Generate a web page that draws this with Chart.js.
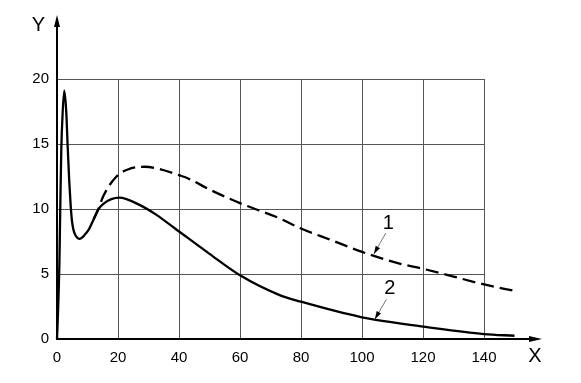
<!DOCTYPE html>
<html>
<head>
<meta charset="utf-8">
<script src="https://cdn.jsdelivr.net/npm/chart.js@4.4.0/dist/chart.umd.min.js"></script>
<style>
html,body{margin:0;padding:0;background:#fff;}
canvas{display:block;}
</style>
</head>
<body>
<canvas id="c" width="581" height="383"></canvas>
<script>
// Curve 1 (dashed)
const xs1 = [12, 13.5, 15.2, 19.5, 23.9, 28.8, 34.8, 40, 43, 50, 60, 73, 80, 90, 100, 112.3, 120, 130, 140, 150];
const ys1 = [9.2, 9.95, 11.0, 12.5, 13.1, 13.25, 13.0, 12.6, 12.35, 11.5, 10.45, 9.28, 8.5, 7.6, 6.7, 5.8, 5.4, 4.8, 4.2, 3.7];
// Curve 2 (solid)
const xs2 = [0, 0.4, 0.8, 1.1, 1.4, 1.85, 2.4, 3.05, 3.5, 4.0, 4.5, 4.9, 5.3, 5.8, 6.5, 7.3, 8.2, 9.2, 10.5, 12, 13.5, 15.2, 20.4, 27.2, 32.6, 38.7, 50, 60, 73, 80, 100, 112.3, 120, 140, 150];
const ys2 = [0, 2.5, 6, 10.5, 14.5, 17.4, 19.1, 17.4, 14.8, 12.2, 10.2, 9.1, 8.5, 8.1, 7.83, 7.7, 7.8, 8.05, 8.45, 9.2, 9.95, 10.4, 10.87, 10.3, 9.55, 8.5, 6.55, 4.9, 3.38, 2.87, 1.67, 1.2, 0.95, 0.38, 0.25];
// Tick labels
const xTicks = [0, 20, 40, 60, 80, 100, 120, 140];
const yTicks = [0, 5, 10, 15, 20];
// Annotation anchors (data space): [tipX, tipY, startX, startY, textX, textY]
const note1 = [103.9, 6.54, 107.8, 8.15, 108.6, 8.85];
const note2 = [104.2, 1.52, 108.0, 3.05, 109.1, 3.9];

const FONT = '"Liberation Sans", Arial, sans-serif';

function pts(xs, ys){ return xs.map((x,i)=>({x:x, y:ys[i]})); }

function arrowHead(ctx, x1, y1, x2, y2, len, hw){
  const a = Math.atan2(y2-y1, x2-x1);
  ctx.beginPath();
  ctx.moveTo(x2, y2);
  ctx.lineTo(x2 - len*Math.cos(a) + hw*Math.sin(a), y2 - len*Math.sin(a) - hw*Math.cos(a));
  ctx.lineTo(x2 - len*Math.cos(a) - hw*Math.sin(a), y2 - len*Math.sin(a) + hw*Math.cos(a));
  ctx.closePath();
  ctx.fill();
}

const decor = {
  id: 'decor',
  afterDatasetsDraw(chart){
    const ctx = chart.ctx;
    const xs = chart.scales.x, ys = chart.scales.y;
    const L = xs.left, B = ys.bottom;
    ctx.save();
    ctx.strokeStyle = '#000';
    ctx.fillStyle = '#000';
    ctx.lineWidth = 2;
    // Y axis
    ctx.beginPath(); ctx.moveTo(L, B+1); ctx.lineTo(L, 24); ctx.stroke();
    arrowHead(ctx, L, B, L, 15, 12, 3);
    // X axis
    ctx.beginPath(); ctx.moveTo(L-1, B); ctx.lineTo(532, B); ctx.stroke();
    arrowHead(ctx, L, B, 542, B, 13, 3);
    // Axis letters
    ctx.font = '20px ' + FONT;
    ctx.textAlign = 'center';
    ctx.textBaseline = 'middle';
    ctx.fillText('Y', 38.5, 25);
    ctx.fillText('X', 535, 356);
    // Curve labels with leaders
    [[note1,'1'],[note2,'2']].forEach(([n,t])=>{
      const tx = xs.getPixelForValue(n[0]), ty = ys.getPixelForValue(n[1]);
      const sx = xs.getPixelForValue(n[2]), sy = ys.getPixelForValue(n[3]);
      const lx = xs.getPixelForValue(n[4]), ly = ys.getPixelForValue(n[5]);
      ctx.strokeStyle = '#777';
      ctx.lineWidth = 1;
      ctx.beginPath(); ctx.moveTo(sx, sy); ctx.lineTo(tx, ty); ctx.stroke();
      ctx.fillStyle = '#000';
      arrowHead(ctx, sx, sy, tx, ty, 8, 2.5);
      ctx.fillText(t, lx, ly);
    });
    ctx.restore();
  }
};

new Chart(document.getElementById('c'), {
  type: 'line',
  data: {
    datasets: [
      { label: '1', data: pts(xs1, ys1), borderColor: '#000', borderWidth: 2.3, borderDash: [13, 6],
        pointRadius: 0, cubicInterpolationMode: 'monotone', fill: false, clip: false },
      { label: '2', data: pts(xs2, ys2), borderColor: '#000', borderWidth: 2.3,
        pointRadius: 0, cubicInterpolationMode: 'monotone', fill: false, clip: false }
    ]
  },
  options: {
    responsive: false,
    animation: false,
    events: [],
    layout: { padding: { left: 17, right: 97, top: 79, bottom: 14 } },
    plugins: { legend: { display: false }, tooltip: { enabled: false } },
    scales: {
      x: {
        type: 'linear',
        afterDataLimits(s){ s.min = 0; s.max = 140; },
        afterFit(s){ s.height = 30; },
        afterBuildTicks(s){ s.ticks = xTicks.map(v=>({value:v})); },
        grid: { color: '#555', lineWidth: 1, drawTicks: false },
        border: { display: false },
        ticks: { padding: 10, color: '#000', font: { family: FONT, size: 15 }, maxRotation: 0 }
      },
      y: {
        type: 'linear',
        afterDataLimits(s){ s.min = 0; s.max = 20; },
        afterFit(s){ s.width = 40; },
        afterBuildTicks(s){ s.ticks = yTicks.map(v=>({value:v})); },
        grid: { color: '#555', lineWidth: 1, drawTicks: false },
        border: { display: false },
        ticks: { padding: 8, color: '#000', font: { family: FONT, size: 15 } }
      }
    }
  },
  plugins: [decor]
});
</script>
</body>
</html>
